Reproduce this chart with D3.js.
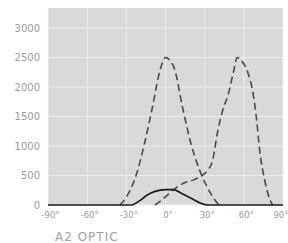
<!DOCTYPE html>
<html>
<head>
<meta charset="utf-8">
<script src="https://cdn.jsdelivr.net/npm/d3@7"></script>
<style>
  body { margin: 0; background: #fff; }
  svg { display: block; }
</style>
</head>
<body>
<svg id="chart" width="288" height="243"></svg>
<script>
// angle (deg) / count pairs
const solidCurve = [[-90, 0], [-26, 0], [-20, 70], [-14, 170], [-8, 230], [0, 260], [6, 260], [12, 200], [20, 110], [27, 30], [32, 0], [90, 0]];
const dashedLeft = [[-35, 0], [-31, 100], [-22, 540], [-16, 1050], [-10, 1660], [-4, 2300], [0, 2500], [2, 2480], [7, 2300], [13, 1660], [20, 1000], [26, 600], [32, 300], [38, 80], [41, 0]];
const dashedRight = [[-8, 0], [-3, 80], [3, 200], [8, 290], [15, 380], [22, 430], [28, 500], [32, 580], [36, 750], [40, 1250], [44, 1620], [48, 1870], [52, 2250], [55, 2500], [58, 2450], [63, 2250], [67, 1900], [70, 1400], [72, 950], [76, 420], [80, 90], [82, 0]];

const xTicks = [-90, -60, -30, 0, 30, 60, 90];
const yTicks = [0, 500, 1000, 1500, 2000, 2500, 3000];
const xLabel = 'A2 OPTIC';

const svg = d3.select('#chart');
const plot = { left: 48, right: 283, top: 8, bottom: 205 };

const x = d3.scaleLinear().domain([-90, 90]).range([plot.left, plot.right]);
const y = d3.scaleLinear().domain([0, 3000]).range([plot.bottom, 28]);

// grey plot panel
svg.append('rect')
  .attr('x', plot.left)
  .attr('y', plot.top)
  .attr('width', plot.right - plot.left)
  .attr('height', plot.bottom - plot.top)
  .attr('fill', '#d9d9d9');

// white grid
svg.append('g')
  .selectAll('line')
  .data(xTicks)
  .join('line')
  .attr('x1', (d) => x(d)).attr('x2', (d) => x(d))
  .attr('y1', plot.top).attr('y2', plot.bottom)
  .attr('stroke', '#f2f2f2')
  .attr('stroke-width', 0.8);

svg.append('g')
  .selectAll('line')
  .data(yTicks)
  .join('line')
  .attr('x1', plot.left).attr('x2', plot.right)
  .attr('y1', (d) => y(d)).attr('y2', (d) => y(d))
  .attr('stroke', '#f2f2f2')
  .attr('stroke-width', 0.8);

// axes, labels only
const yAxis = svg.append('g')
  .attr('transform', `translate(${plot.left},0)`)
  .call(d3.axisLeft(y).tickValues(yTicks).tickSize(0).tickPadding(8).tickFormat(d3.format('d')));
yAxis.select('.domain').remove();
yAxis.selectAll('text')
  .attr('fill', '#9a9a9a')
  .style('font-family', 'DejaVu Sans')
  .style('font-size', '10px');

const xAxis = svg.append('g')
  .attr('transform', `translate(0,${plot.bottom})`)
  .call(d3.axisBottom(x).tickValues(xTicks).tickSize(0).tickPadding(7).tickFormat((d) => `${d}°`));
xAxis.select('.domain').remove();
xAxis.selectAll('text')
  .attr('fill', '#9a9a9a')
  .attr('dx', '2')
  .style('font-family', 'DejaVu Sans')
  .style('font-size', '8.5px');
// keep the last label inside the frame
xAxis.selectAll('text')
  .filter((d) => d === 90)
  .attr('text-anchor', 'end')
  .attr('dx', '5');

svg.append('text')
  .attr('x', 55)
  .attr('y', 241)
  .attr('fill', '#a0a0a0')
  .style('font-family', 'DejaVu Sans')
  .style('font-size', '12px')
  .style('letter-spacing', '1px')
  .text(xLabel);

// curves
const line = d3.line()
  .x((d) => x(d[0]))
  .y((d) => y(d[1]))
  .curve(d3.curveMonotoneX);

[dashedLeft, dashedRight].forEach((series) => {
  svg.append('path')
    .datum(series)
    .attr('fill', 'none')
    .attr('stroke', '#4a4a4a')
    .attr('stroke-width', 1.6)
    .attr('stroke-dasharray', '7,4')
    .attr('d', line);
});

svg.append('path')
  .datum(solidCurve)
  .attr('fill', 'none')
  .attr('stroke', '#1a1a1a')
  .attr('stroke-width', 1.7)
  .attr('d', line);
</script>
</body>
</html>
